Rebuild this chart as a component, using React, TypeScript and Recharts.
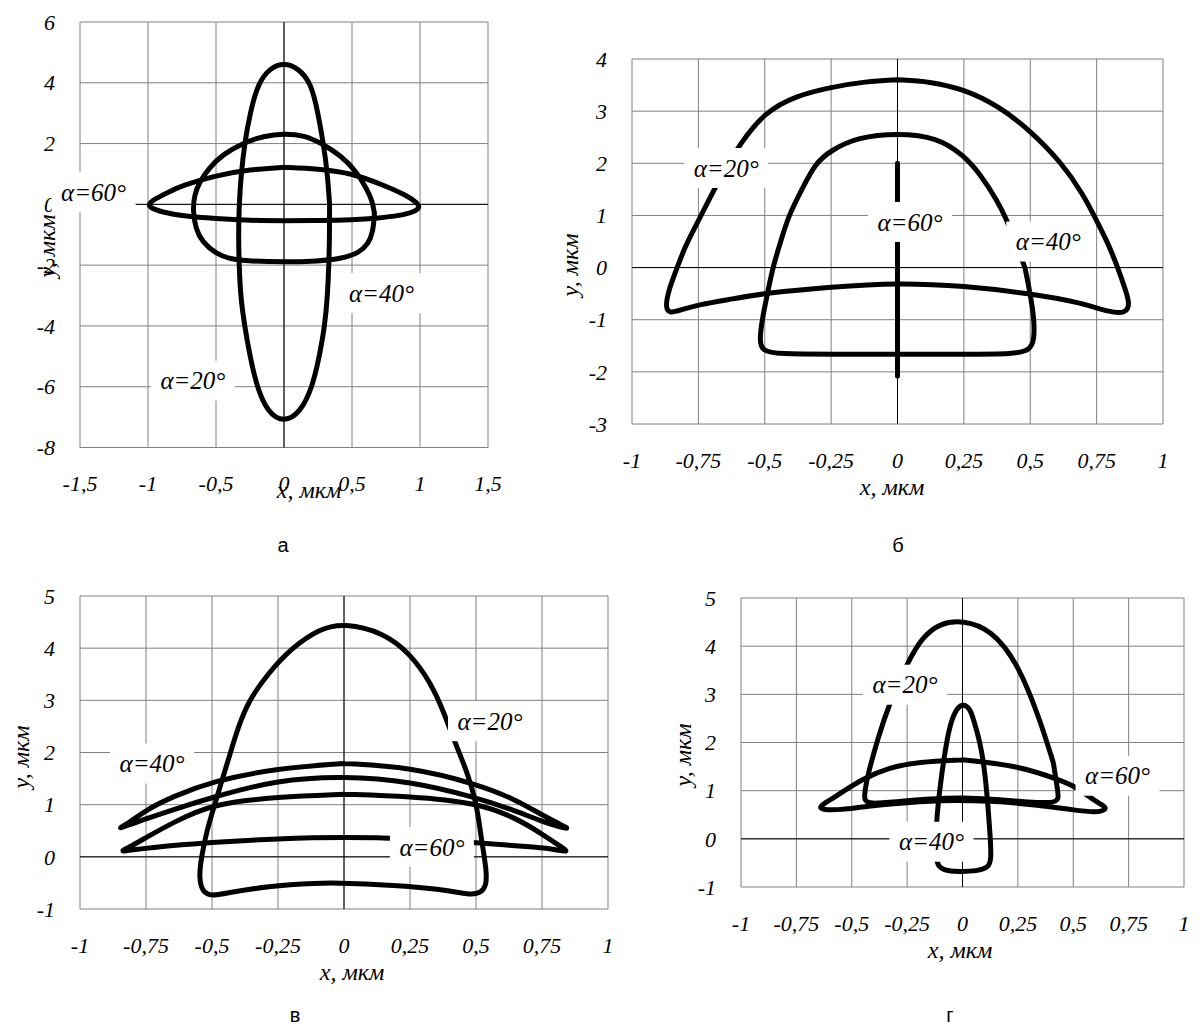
import React from "react";
import {
  LineChart,
  Line,
  XAxis,
  YAxis,
  CartesianGrid,
  ReferenceLine,
  ReferenceDot,
} from "recharts";

type Pair = [number, number];

// ---- panel а ----
const xTicksA = [-1.5, -1, -0.5, 0, 0.5, 1, 1.5];
const yTicksA = [-8, -6, -4, -2, 0, 2, 4, 6];
const a20: Pair[] = [
  [0.335, 0], [0.335, -1], [0.33, -2], [0.32, -3], [0.3, -4], [0.26, -5], [0.21, -6],
  [0.12, -6.85], [0, -7.18], [-0.12, -6.85], [-0.2, -6], [-0.25, -5], [-0.29, -4],
  [-0.32, -3], [-0.33, -2], [-0.335, -1], [-0.33, 0], [-0.315, 1], [-0.29, 2],
  [-0.25, 3], [-0.19, 4], [-0.1, 4.5], [0, 4.65], [0.1, 4.5], [0.2, 4], [0.25, 3],
  [0.29, 2], [0.32, 1], [0.335, 0],
];
const a40: Pair[] = [
  [0.665, -0.3], [0.655, -0.9], [0.62, -1.3], [0.55, -1.6], [0.43, -1.78], [0.25, -1.87],
  [0, -1.9], [-0.25, -1.87], [-0.4, -1.8], [-0.5, -1.62], [-0.6, -1.25], [-0.65, -0.8],
  [-0.67, -0.2], [-0.66, 0.3], [-0.62, 0.75], [-0.55, 1.2], [-0.45, 1.65], [-0.3, 2.02],
  [-0.15, 2.25], [0, 2.33], [0.15, 2.27], [0.28, 2], [0.42, 1.6], [0.53, 1.1],
  [0.61, 0.5], [0.65, 0.1], [0.665, -0.3],
];
const a60: Pair[] = [
  [0, 1.22], [0.25, 1.17], [0.5, 1.03], [0.75, 0.6], [0.9, 0.3], [0.98, 0.05], [1, -0.1],
  [0.96, -0.25], [0.85, -0.37], [0.7, -0.45], [0.5, -0.51], [0.25, -0.53], [0, -0.54],
  [-0.25, -0.53], [-0.5, -0.47], [-0.75, -0.38], [-0.9, -0.25], [-0.98, -0.12], [-1, 0],
  [-0.95, 0.18], [-0.85, 0.4], [-0.75, 0.62], [-0.5, 0.95], [-0.25, 1.15], [0, 1.22],
];

// ---- panel б ----
const xTicksQ = [-1, -0.75, -0.5, -0.25, 0, 0.25, 0.5, 0.75, 1];
const yTicksB = [-3, -2, -1, 0, 1, 2, 3, 4];
const b20: Pair[] = [
  [0, 3.6], [0.12, 3.57], [0.25, 3.42], [0.38, 3.1], [0.5, 2.63], [0.62, 2], [0.7, 1.4],
  [0.75, 0.9], [0.79, 0.5], [0.83, 0], [0.86, -0.45], [0.875, -0.7], [0.86, -0.88],
  [0.8, -0.86], [0.69, -0.67], [0.5, -0.5], [0.25, -0.35], [0, -0.29], [-0.25, -0.37],
  [-0.5, -0.49], [-0.62, -0.6], [-0.75, -0.71], [-0.82, -0.82], [-0.86, -0.88],
  [-0.875, -0.75], [-0.86, -0.4], [-0.83, 0], [-0.8, 0.4], [-0.77, 0.7], [-0.72, 1.2],
  [-0.66, 1.8], [-0.59, 2.4], [-0.5, 2.98], [-0.38, 3.3], [-0.25, 3.46], [-0.12, 3.57],
  [0, 3.6],
];
const b40: Pair[] = [
  [0.48, 0], [0.5, -0.5], [0.515, -1], [0.515, -1.38], [0.5, -1.58], [0.44, -1.66],
  [0.25, -1.66], [0, -1.66], [-0.25, -1.66], [-0.45, -1.66], [-0.51, -1.6], [-0.52, -1.4],
  [-0.51, -1], [-0.49, -0.5], [-0.47, 0], [-0.44, 0.5], [-0.41, 1], [-0.36, 1.5],
  [-0.31, 2], [-0.25, 2.25], [-0.15, 2.5], [0, 2.58], [0.15, 2.5], [0.25, 2.15],
  [0.31, 1.8], [0.375, 1.29], [0.41, 0.94], [0.45, 0.4], [0.48, 0],
];
const b60: Pair[] = [[0, 2], [0, -2.08]];

// ---- panel в ----
const yTicksC = [-1, 0, 1, 2, 3, 4, 5];
const c20: Pair[] = [
  [0.52, 0.37], [0.54, -0.27], [0.54, -0.55], [0.515, -0.71], [0.47, -0.72], [0.4, -0.65],
  [0.25, -0.56], [0, -0.5], [-0.1, -0.5], [-0.29, -0.56], [-0.45, -0.7], [-0.5, -0.75],
  [-0.535, -0.69], [-0.55, -0.4], [-0.54, 0], [-0.52, 0.5], [-0.49, 1], [-0.46, 1.5],
  [-0.43, 2], [-0.4, 2.5], [-0.36, 3], [-0.29, 3.5], [-0.2, 4], [-0.09, 4.38], [0, 4.48],
  [0.15, 4.3], [0.25, 3.9], [0.33, 3.33], [0.38, 2.75], [0.42, 2.19], [0.465, 1.65],
  [0.5, 1.08], [0.52, 0.37],
];
const c40: Pair[] = [
  [0, 1.79], [0.25, 1.72], [0.5, 1.4], [0.65, 1.1], [0.75, 0.8], [0.82, 0.62], [0.86, 0.52],
  [0.8, 0.6], [0.75, 0.68], [0.65, 0.88], [0.5, 1.14], [0.25, 1.45], [0, 1.55],
  [-0.25, 1.48], [-0.5, 1.14], [-0.65, 0.9], [-0.75, 0.73], [-0.82, 0.6], [-0.86, 0.53],
  [-0.82, 0.63], [-0.75, 0.9], [-0.65, 1.15], [-0.5, 1.45], [-0.25, 1.7], [0, 1.79],
];
const c60: Pair[] = [
  [0, 1.2], [0.25, 1.16], [0.5, 1.04], [0.65, 0.75], [0.75, 0.44], [0.82, 0.2], [0.855, 0.08],
  [0.8, 0.14], [0.75, 0.18], [0.5, 0.27], [0.25, 0.35], [0, 0.38], [-0.25, 0.35],
  [-0.5, 0.28], [-0.75, 0.17], [-0.82, 0.12], [-0.85, 0.1], [-0.8, 0.22], [-0.75, 0.37],
  [-0.65, 0.65], [-0.5, 1.02], [-0.25, 1.15], [0, 1.2],
];

// ---- panel г ----
const d20: Pair[] = [
  [0.41, 1.58], [0.43, 1], [0.435, 0.82], [0.41, 0.74], [0.3, 0.76], [0.15, 0.82], [0, 0.86],
  [-0.15, 0.83], [-0.3, 0.77], [-0.42, 0.72], [-0.445, 0.8], [-0.44, 1], [-0.43, 1.29],
  [-0.38, 2.12], [-0.33, 2.81], [-0.25, 3.65], [-0.18, 4.2], [-0.1, 4.48], [0, 4.54],
  [0.13, 4.35], [0.25, 3.65], [0.35, 2.47], [0.41, 1.58],
];
const d40: Pair[] = [
  [0.125, 0.04], [0.13, -0.4], [0.12, -0.6], [0.06, -0.67], [0, -0.68], [-0.07, -0.67],
  [-0.11, -0.58], [-0.12, -0.4], [-0.12, 0.2], [-0.11, 0.74], [-0.095, 1.3], [-0.08, 1.78],
  [-0.06, 2.3], [-0.035, 2.65], [0, 2.82], [0.035, 2.7], [0.05, 2.47], [0.08, 2],
  [0.1, 1.43], [0.115, 0.7], [0.125, 0.04],
];
const d60: Pair[] = [
  [0, 1.64], [0.25, 1.52], [0.44, 1.22], [0.52, 1.06], [0.59, 0.81], [0.64, 0.68],
  [0.65, 0.62], [0.61, 0.54], [0.5, 0.6], [0.35, 0.7], [0.125, 0.79], [-0.1, 0.81],
  [-0.33, 0.72], [-0.44, 0.67], [-0.55, 0.6], [-0.63, 0.6], [-0.65, 0.66], [-0.6, 0.8],
  [-0.55, 0.95], [-0.45, 1.25], [-0.33, 1.48], [-0.2, 1.6], [0, 1.64],
];

type Tag = { text: string; x: number; y: number };

const tagsA: Tag[] = [
  { text: "α=60°", x: -1.4, y: 0.41 },
  { text: "α=40°", x: 0.717, y: -2.92 },
  { text: "α=20°", x: -0.67, y: -5.8 },
];
const tagsB: Tag[] = [
  { text: "α=20°", x: -0.645, y: 1.91 },
  { text: "α=60°", x: 0.047, y: 0.875 },
  { text: "α=40°", x: 0.568, y: 0.5 },
];
const tagsC: Tag[] = [
  { text: "α=40°", x: -0.727, y: 1.79 },
  { text: "α=20°", x: 0.553, y: 2.6 },
  { text: "α=60°", x: 0.333, y: 0.19 },
];
const tagsD: Tag[] = [
  { text: "α=20°", x: -0.26, y: 3.2 },
  { text: "α=40°", x: -0.14, y: -0.06 },
  { text: "α=60°", x: 0.7, y: 1.31 },
];

const SERIF = "Liberation Serif, Times New Roman, DejaVu Serif, serif";
const SANS = "Liberation Sans, Arial, sans-serif";
const GRID = "#808080";

const toPts = (arr: Pair[]) => arr.map(([x, y]) => ({ x, y }));
const fmt = (v: number) => String(v).replace(".", ",");

const serifText: React.CSSProperties = { fontFamily: SERIF, fontStyle: "italic" };

const YTick = (props: any) => {
  const { x, y, payload } = props;
  return (
    <text x={x - 25} y={y} dy="0.35em" textAnchor="end" style={serifText}
      fontSize={22} fill="#000">
      {fmt(payload.value)}
    </text>
  );
};

const XTick = (props: any) => {
  const { x, y, payload } = props;
  return (
    <text x={x} y={y + 36} dy="0.35em" textAnchor="middle" style={serifText}
      fontSize={22} fill="#000">
      {fmt(payload.value)}
    </text>
  );
};

// white box with the angle caption, centred on a data point
const tagShape = (text: string) => (p: any) => (
  <g>
    <rect x={p.cx - 42} y={p.cy - 20} width={84} height={40} fill="#fff" />
    <text x={p.cx} y={p.cy} dy="0.35em" textAnchor="middle" style={serifText}
      fontSize={25} fill="#000">
      {text}
    </text>
  </g>
);

const ML = 80;
const MT = 20;
const MR = 20;
const MB = 70;

interface PanelProps {
  left: number;
  top: number;
  plotW: number;
  plotH: number;
  xTicks: number[];
  yTicks: number[];
  curves: Pair[][];
  tags: Tag[];
}

const Panel = ({ left, top, plotW, plotH, xTicks, yTicks, curves, tags }: PanelProps) => (
  <div style={{ position: "absolute", left: left - ML, top: top - MT }}>
    <LineChart
      width={plotW + ML + MR}
      height={plotH + MT + MB}
      margin={{ top: MT, right: MR, left: 0, bottom: 0 }}
    >
      <CartesianGrid stroke={GRID} strokeWidth={1} />
      <XAxis
        type="number"
        dataKey="x"
        domain={[xTicks[0], xTicks[xTicks.length - 1]]}
        ticks={xTicks}
        interval={0}
        allowDataOverflow
        height={MB}
        tickSize={0}
        tickMargin={0}
        axisLine={false}
        tickLine={false}
        tick={<XTick />}
      />
      <YAxis
        type="number"
        domain={[yTicks[0], yTicks[yTicks.length - 1]]}
        ticks={yTicks}
        interval={0}
        allowDataOverflow
        width={ML}
        tickSize={0}
        tickMargin={0}
        axisLine={false}
        tickLine={false}
        tick={<YTick />}
      />
      <ReferenceLine x={0} stroke="#000" strokeWidth={1} />
      <ReferenceLine y={0} stroke="#000" strokeWidth={1} />
      {curves.map((c, i) => (
        <Line
          key={i}
          data={toPts(c)}
          dataKey="y"
          type="basis"
          stroke="#000"
          strokeWidth={5}
          strokeLinecap="round"
          strokeLinejoin="round"
          dot={false}
          activeDot={false}
          isAnimationActive={false}
        />
      ))}
      {tags.map((t) => (
        <ReferenceDot
          key={t.text}
          x={t.x}
          y={t.y}
          r={1}
          ifOverflow="visible"
          shape={tagShape(t.text)}
          zIndex={2000}
        />
      ))}
    </LineChart>
  </div>
);

const textStyle = (x: number, y: number, rotate = false): React.CSSProperties => ({
  position: "absolute",
  left: x,
  top: y,
  transform: `translate(-50%, -50%)${rotate ? " rotate(-90deg)" : ""}`,
  fontFamily: SERIF,
  fontStyle: "italic",
  fontSize: 24,
  whiteSpace: "nowrap",
  lineHeight: 1,
});

const letterStyle = (x: number, y: number): React.CSSProperties => ({
  position: "absolute",
  left: x,
  top: y,
  transform: "translate(-50%, -50%)",
  fontFamily: SANS,
  fontSize: 20,
  lineHeight: 1,
});

export default function App() {
  return (
    <div style={{ position: "absolute", left: 0, top: 0, width: 1201, height: 1032, background: "#fff" }}>
      <Panel left={80} top={21.5} plotW={408} plotH={425.5} xTicks={xTicksA} yTicks={yTicksA}
        curves={[a20, a40, a60]} tags={tagsA} />
      <Panel left={632} top={59} plotW={531} plotH={365} xTicks={xTicksQ} yTicks={yTicksB}
        curves={[b20, b40, b60]} tags={tagsB} />
      <Panel left={80} top={596} plotW={528} plotH={313} xTicks={xTicksQ} yTicks={yTicksC}
        curves={[c20, c40, c60]} tags={tagsC} />
      <Panel left={741} top={598} plotW={443} plotH={289} xTicks={xTicksQ} yTicks={yTicksC}
        curves={[d20, d40, d60]} tags={tagsD} />

      <div style={textStyle(309, 490)}>x, мкм</div>
      <div style={textStyle(47, 246, true)}>y, мкм</div>
      <div style={textStyle(892, 487)}>x, мкм</div>
      <div style={textStyle(570, 265, true)}>y, мкм</div>
      <div style={textStyle(352, 972)}>x, мкм</div>
      <div style={textStyle(21, 757, true)}>y, мкм</div>
      <div style={textStyle(960, 950)}>x, мкм</div>
      <div style={textStyle(683, 755, true)}>y, мкм</div>

      <div style={letterStyle(283, 545)}>а</div>
      <div style={letterStyle(898, 545)}>б</div>
      <div style={letterStyle(295, 1015)}>в</div>
      <div style={letterStyle(950, 1015)}>г</div>
    </div>
  );
}
